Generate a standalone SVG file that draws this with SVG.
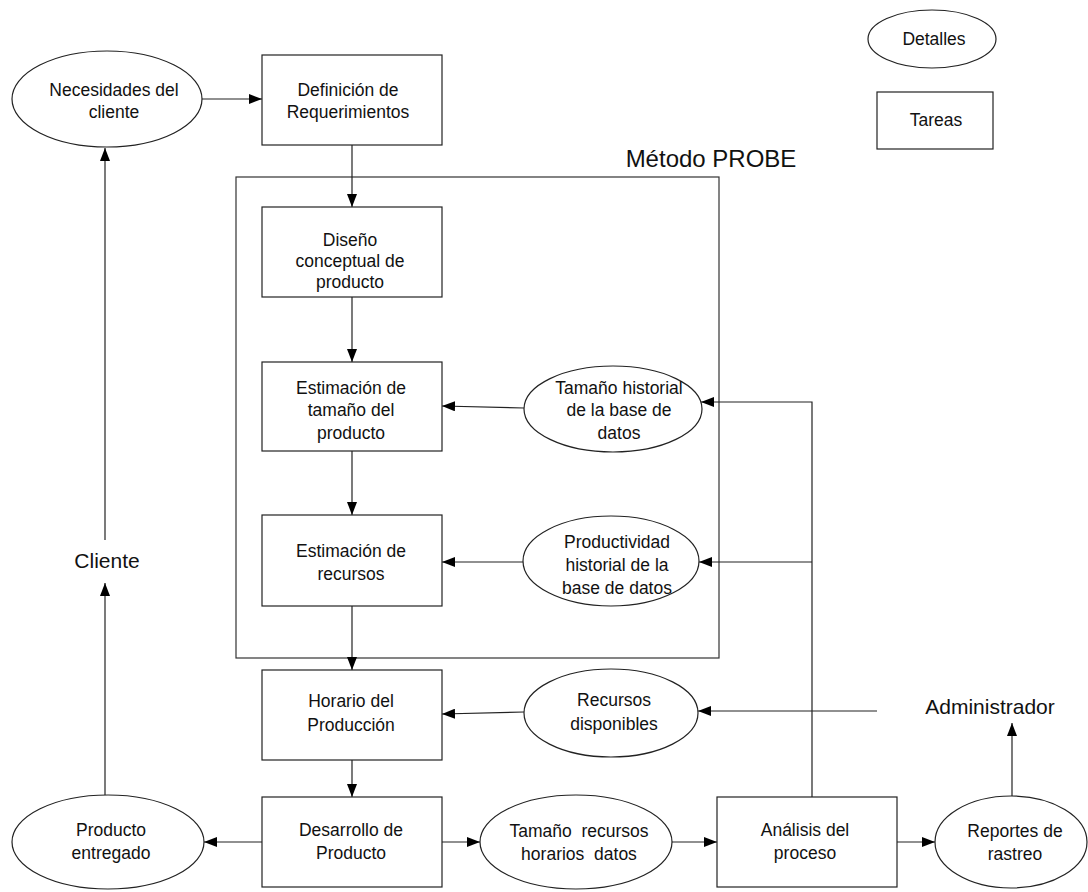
<svg xmlns="http://www.w3.org/2000/svg" width="1088" height="892" viewBox="0 0 1088 892">
  <style>
    .shape { fill: #ffffff; stroke: #222222; stroke-width: 1.2; }
    .frame { fill: none; stroke: #333333; stroke-width: 1.2; }
    .lbl { font-family: "Liberation Sans", Arial, sans-serif; font-size: 17.5px; fill: #111111; text-anchor: middle; }
    .big { font-family: "Liberation Sans", Arial, sans-serif; font-size: 21px; fill: #111111; text-anchor: middle; }
    .title { font-family: "Liberation Sans", Arial, sans-serif; font-size: 24px; fill: #111111; text-anchor: middle; }
    .pre { white-space: pre; }
    .conn { fill: none; stroke: #222222; stroke-width: 1.2; marker-end: url(#arrow); }
  </style>
  <defs>
    <marker id="arrow" viewBox="0 0 13 10" refX="13" refY="5" markerWidth="13" markerHeight="10" markerUnits="userSpaceOnUse" orient="auto">
      <path d="M0,0 L13,5 L0,10 Z" fill="#000000"/>
    </marker>
  </defs>
  <rect width="1088" height="892" fill="#ffffff"/>

  <!-- PROBE method frame -->
  <g id="metodo-probe">
    <rect class="frame" x="236" y="177" width="483" height="481"/>
    <text class="title" x="711" y="167">Método PROBE</text>
  </g>

  <!-- connectors -->
  <g id="connectors">
    <line class="conn" x1="202" y1="99" x2="262" y2="99"/>
    <line class="conn" x1="352" y1="145" x2="352" y2="207"/>
    <line class="conn" x1="352" y1="297" x2="352" y2="362"/>
    <line class="conn" x1="352" y1="451" x2="352" y2="515"/>
    <line class="conn" x1="352" y1="606" x2="352" y2="670"/>
    <line class="conn" x1="352" y1="760" x2="352" y2="797"/>
    <line class="conn" x1="524" y1="408" x2="442" y2="406"/>
    <line class="conn" x1="524" y1="562" x2="442" y2="562"/>
    <line class="conn" x1="524" y1="712" x2="442" y2="714"/>
    <polyline class="conn" points="812,797 812,402 701,402"/>
    <line class="conn" x1="812" y1="562" x2="699" y2="562"/>
    <line class="conn" x1="877" y1="711" x2="698" y2="711"/>
    <line class="conn" x1="262" y1="842" x2="204" y2="842"/>
    <line class="conn" x1="442" y1="842" x2="480" y2="842"/>
    <line class="conn" x1="672" y1="842" x2="717" y2="842"/>
    <line class="conn" x1="897" y1="842" x2="935" y2="842"/>
    <line class="conn" x1="1012" y1="796" x2="1012" y2="723"/>
    <line class="conn" x1="105" y1="795" x2="105" y2="583"/>
    <line class="conn" x1="105" y1="540" x2="105" y2="148"/>
  </g>

  <!-- legend -->
  <g id="leyenda-detalles">
    <ellipse class="shape" cx="932" cy="39" rx="64" ry="29"/>
    <text class="lbl" x="934" y="45">Detalles</text>
  </g>
  <g id="leyenda-tareas">
    <rect class="shape" x="877" y="92" width="116" height="57"/>
    <text class="lbl" x="936" y="126">Tareas</text>
  </g>

  <!-- nodes -->
  <g id="necesidades-cliente">
    <ellipse class="shape" cx="107" cy="99" rx="95" ry="48"/>
    <text class="lbl" x="114" y="96">Necesidades del</text>
    <text class="lbl" x="114" y="118">cliente</text>
  </g>
  <g id="definicion-requerimientos">
    <rect class="shape" x="262" y="55" width="180" height="90"/>
    <text class="lbl" x="348" y="96">Definición de</text>
    <text class="lbl" x="348" y="118">Requerimientos</text>
  </g>
  <g id="diseno-conceptual">
    <rect class="shape" x="262" y="207" width="180" height="90"/>
    <text class="lbl" x="350" y="246">Diseño</text>
    <text class="lbl" x="350" y="267">conceptual de</text>
    <text class="lbl" x="350" y="288">producto</text>
  </g>
  <g id="estimacion-tamano">
    <rect class="shape" x="262" y="362" width="180" height="89"/>
    <text class="lbl" x="351" y="394">Estimación de</text>
    <text class="lbl" x="351" y="416">tamaño del</text>
    <text class="lbl" x="351" y="439">producto</text>
  </g>
  <g id="tamano-historial">
    <ellipse class="shape" cx="613" cy="409" rx="89" ry="43"/>
    <text class="lbl" x="619" y="394">Tamaño historial</text>
    <text class="lbl" x="619" y="416">de la base de</text>
    <text class="lbl" x="619" y="439">datos</text>
  </g>
  <g id="estimacion-recursos">
    <rect class="shape" x="262" y="515" width="180" height="91"/>
    <text class="lbl" x="351" y="557">Estimación de</text>
    <text class="lbl" x="351" y="580">recursos</text>
  </g>
  <g id="productividad-historial">
    <ellipse class="shape" cx="611" cy="561" rx="88" ry="45"/>
    <text class="lbl" x="617" y="548">Productividad</text>
    <text class="lbl" x="617" y="571">historial de la</text>
    <text class="lbl" x="617" y="594">base de datos</text>
  </g>
  <g id="horario-produccion">
    <rect class="shape" x="262" y="670" width="180" height="90"/>
    <text class="lbl" x="351" y="707">Horario del</text>
    <text class="lbl" x="351" y="731">Producción</text>
  </g>
  <g id="recursos-disponibles">
    <ellipse class="shape" cx="611" cy="713" rx="87" ry="44"/>
    <text class="lbl" x="614" y="706">Recursos</text>
    <text class="lbl" x="614" y="730">disponibles</text>
  </g>
  <g id="administrador">
    <text class="big" x="990" y="714">Administrador</text>
  </g>
  <g id="cliente">
    <text class="big" x="107" y="568">Cliente</text>
  </g>
  <g id="producto-entregado">
    <ellipse class="shape" cx="108" cy="842" rx="96" ry="47"/>
    <text class="lbl" x="111" y="836">Producto</text>
    <text class="lbl" x="111" y="859">entregado</text>
  </g>
  <g id="desarrollo-producto">
    <rect class="shape" x="262" y="797" width="180" height="90"/>
    <text class="lbl" x="351" y="836">Desarrollo de</text>
    <text class="lbl" x="351" y="859">Producto</text>
  </g>
  <g id="tamano-recursos-horarios">
    <ellipse class="shape" cx="576" cy="842" rx="96" ry="47"/>
    <text class="lbl pre" x="579" y="837">Tamaño  recursos</text>
    <text class="lbl pre" x="579" y="860">horarios  datos</text>
  </g>
  <g id="analisis-proceso">
    <rect class="shape" x="717" y="797" width="180" height="90"/>
    <text class="lbl" x="805" y="836">Análisis del</text>
    <text class="lbl" x="805" y="859">proceso</text>
  </g>
  <g id="reportes-rastreo">
    <ellipse class="shape" cx="1011" cy="842" rx="76" ry="46"/>
    <text class="lbl" x="1015" y="837">Reportes de</text>
    <text class="lbl" x="1015" y="860">rastreo</text>
  </g>
</svg>
